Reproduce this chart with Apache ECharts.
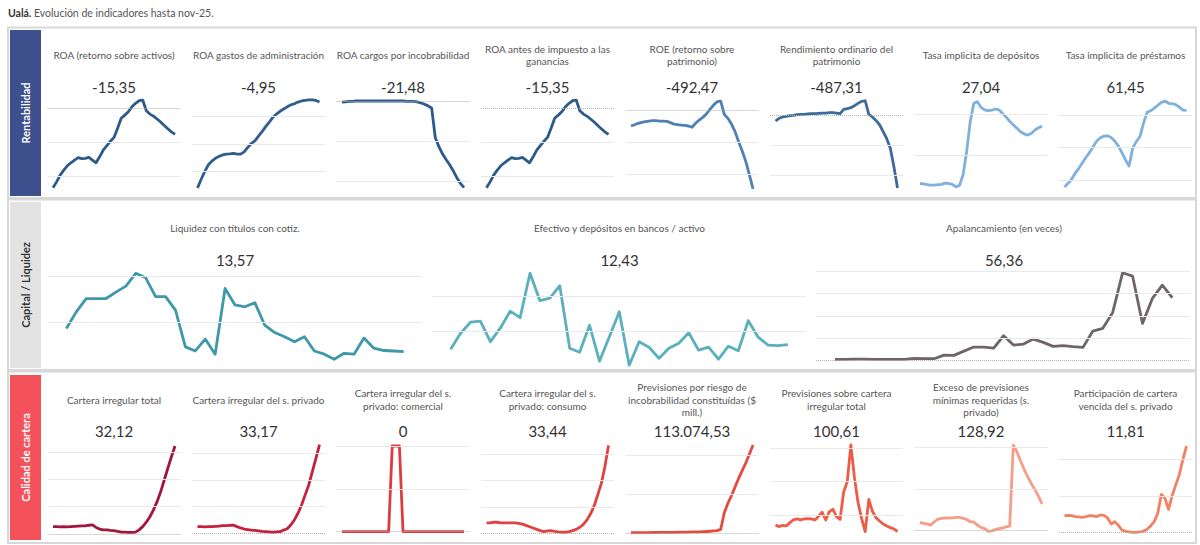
<!DOCTYPE html>
<html>
<head>
<meta charset="utf-8">
<title>Ualá - Evolución de indicadores</title>
<script src="https://cdn.jsdelivr.net/npm/echarts@6/dist/echarts.min.js"></script>
<style>
    html, body { margin: 0; padding: 0; background: #fff; }
    #main { width: 1200px; height: 545px; }
</style>
</head>
<body>
<div id="main"></div>
<script>
    // Rentabilidad
    var roa = [-47.0, -43.5, -39.5, -36.6, -34.0, -32.2, -30.6, -29.2, -29.8, -29.6, -29.0, -30.6, -32.2, -28.7, -24.7, -22.1, -19.5, -17.2, -11.8, -5.9, -4.0, -2.0, 0.9, 3.0, 4.5, 4.9, -1.4, -3.4, -4.6, -6.3, -8.1, -10.1, -12.1, -13.9, -15.35];
    var roaGastos = [-35.8, -32.8, -30.0, -27.6, -26.2, -25.2, -24.5, -24.0, -23.7, -23.6, -23.4, -23.7, -23.7, -22.9, -21.3, -19.8, -18.9, -17.2, -15.6, -13.8, -12.2, -10.5, -9.3, -8.3, -7.5, -6.7, -6.0, -5.6, -5.0, -4.6, -4.4, -4.2, -4.2, -4.4, -4.95];
    var roaCargos = [-0.3, -0.2, -0.1, -0.1, 0.0, 0.0, 0.0, 0.0, 0.0, 0.0, 0.0, 0.0, 0.0, 0.0, 0.0, 0.0, 0.0, 0.0, -0.1, -0.1, -0.1, -0.2, -0.5, -0.8, -1.2, -1.8, -9.1, -11.3, -13.1, -14.5, -15.8, -17.3, -19.0, -20.4, -21.48];
    var roaAntes = [-47.0, -43.5, -39.5, -36.6, -34.0, -32.2, -30.6, -29.2, -29.8, -29.6, -29.0, -30.6, -32.2, -28.7, -24.7, -22.1, -19.5, -17.2, -11.8, -5.9, -4.0, -2.0, 0.9, 3.0, 4.5, 4.9, -1.4, -3.4, -4.6, -6.3, -8.1, -10.1, -12.1, -13.9, -15.35];
    var roe = [-100, -92, -83, -77, -73, -69, -67, -67, -69, -69, -71, -79, -88, -92, -94, -96, -100, -108, -83, -63, -46, -25, 4, 31, 52, 56, -27, -52, -88, -135, -198, -256, -323, -406, -492.47];
    var rendimiento = [-40, -22, -13, -9, -4, -2, 2, 4, 4, 7, 9, 9, 11, 13, 13, 16, 16, 13, 9, 38, 42, 49, 62, 78, 91, 95, 4, -13, -36, -65, -111, -158, -222, -345, -487.31];
    var tasaDep = [13.0, 12.9, 12.7, 12.6, 12.6, 12.7, 12.8, 13.1, 13.0, 12.8, 12.2, 12.5, 15.1, 20.8, 28.2, 32.7, 33.1, 31.7, 31.1, 30.9, 31.0, 31.3, 31.1, 30.2, 29.3, 28.3, 27.4, 26.6, 25.7, 25.2, 24.9, 25.3, 26.1, 26.7, 27.04];
    var tasaPrest = [37.8, 39.0, 40.3, 42.1, 43.6, 45.3, 47.0, 48.5, 50.3, 52.0, 53.0, 53.5, 53.6, 53.1, 52.0, 50.5, 48.4, 46.2, 44.3, 49.8, 51.8, 53.3, 57.4, 60.8, 61.3, 62.1, 63.0, 63.9, 64.3, 63.6, 63.5, 63.2, 62.4, 61.5, 61.45];

    // Capital / Liquidez
    var liquidez = [18.6, 22.2, 25.1, 25.1, 25.1, 26.5, 27.8, 30.6, 29.6, 25.5, 25.5, 22.6, 14.6, 13.7, 16.3, 13.0, 27.3, 23.7, 23.3, 24.2, 19.3, 17.7, 16.8, 15.7, 16.8, 13.7, 13.0, 11.9, 13.2, 13.0, 16.5, 14.3, 13.8, 13.7, 13.57];
    var efectivo = [11.5, 14.7, 16.9, 17.1, 13.0, 15.7, 19.1, 17.8, 26.7, 21.2, 21.7, 24.2, 11.7, 10.9, 16.3, 9.1, 14.0, 19.0, 8.3, 13.0, 11.9, 9.7, 11.7, 12.7, 14.8, 11.3, 11.9, 9.5, 12.1, 11.2, 17.2, 13.9, 12.3, 12.2, 12.43];
    var apalancamiento = [1.2, 1.2, 1.5, 1.5, 1.2, 1.2, 1.2, 1.2, 2.1, 1.8, 1.8, 5.0, 4.8, 8.6, 12.2, 12.2, 11.3, 22.3, 14.0, 14.9, 19.3, 16.4, 12.8, 13.4, 12.5, 11.9, 26.5, 28.9, 43.1, 78.6, 75.6, 33.3, 55.6, 67.5, 56.36];

    // Calidad de cartera
    var carteraTotal = [2.7, 2.7, 2.6, 2.7, 2.6, 2.7, 2.8, 2.9, 3.0, 3.0, 3.2, 3.3, 2.4, 1.8, 1.5, 1.5, 1.3, 1.2, 1.0, 0.7, 0.7, 0.6, 0.6, 0.7, 1.5, 2.7, 4.3, 6.3, 8.8, 11.8, 15.4, 19.7, 24.0, 28.2, 32.12];
    var carteraPriv = [2.5, 2.5, 2.4, 2.5, 2.5, 2.6, 2.7, 2.9, 2.9, 3.0, 3.1, 2.5, 2.0, 1.6, 1.4, 1.2, 1.1, 0.9, 0.7, 0.6, 0.5, 0.4, 0.5, 0.6, 1.2, 1.7, 3.1, 5.0, 7.5, 10.6, 14.4, 18.1, 23.1, 28.1, 33.17];
    var carteraCom = [0, 0, 0, 0, 0, 0, 0, 0, 0, 0, 0, 0, 0, 0, 100, 100, 100, 0, 0, 0, 0, 0, 0, 0, 0, 0, 0, 0, 0, 0, 0, 0, 0, 0, 0];
    var carteraCons = [4.0, 4.0, 4.2, 4.2, 4.0, 4.0, 4.0, 4.0, 4.0, 3.8, 3.5, 3.0, 2.5, 2.0, 1.5, 1.0, 0.6, 0.9, 1.0, 0.7, 0.5, 0.4, 0.4, 0.6, 1.0, 1.5, 2.3, 3.4, 5.1, 7.4, 10.4, 14.6, 19.0, 25.4, 33.44];
    var previsiones = [700, 750, 800, 850, 900, 950, 1000, 1050, 1100, 1150, 1200, 1250, 1300, 1350, 1400, 1500, 1600, 1700, 1800, 1900, 2100, 2300, 2600, 3000, 3400, 5100, 26400, 38500, 48300, 59400, 70500, 80300, 90500, 101700, 113074.53];
    var previsionesCartera = [140, 130, 138, 134, 154, 170, 176, 170, 176, 178, 176, 170, 192, 216, 170, 220, 234, 190, 174, 338, 400, 620, 424, 274, 178, 100, 294, 222, 184, 164, 146, 134, 124, 116, 100.61];
    var exceso = [40, 35, 32, 27, 43, 56, 59, 61, 61, 62, 64, 64, 59, 54, 43, 42, 27, 16, 10, -3, -1, 5, 10, 13, 18, 22, 411, 379, 336, 296, 259, 227, 198, 166, 128.92];
    var participacion = [2.28, 2.33, 2.28, 2.15, 2.1, 2.05, 2.15, 2.28, 2.24, 2.15, 2.38, 2.33, 1.96, 1.14, 1.46, 0.96, 0.32, 0.14, 0.05, 0.0, 0.0, 0.05, 0.14, 0.41, 0.87, 1.46, 2.6, 5.2, 4.65, 3.14, 5.0, 6.5, 7.9, 10.0, 11.81];

    var FONT = 'Lato, "Open Sans", sans-serif';

    //bloques
    var panels = [
        { label: 'Rentabilidad', y: 27.5, h: 170.5, boxY: 30, boxH: 166, box: '#3d4f8d', txt: '#ffffff' },
        { label: 'Capital / Liquidez', y: 199.5, h: 170.5, boxY: 202, boxH: 166, box: '#e3e3e3', txt: '#333333' },
        { label: 'Calidad de cartera', y: 371.5, h: 171.5, boxY: 375, boxH: 165, box: '#f4525b', txt: '#ffffff' }
    ];

    //indicadores
    var charts = [
        { p: 0, k: 0, title: 'ROA (retorno sobre activos)', value: '-15,35', data: roa, color: '#2d5a8a', min: -49.5, max: 7.9, lines: [-20, -40], zero: true },
        { p: 0, k: 1, title: 'ROA gastos de administración', value: '-4,95', data: roaGastos, color: '#2f5d8e', min: -37.3, max: -2.45, lines: [-10, -20, -30] },
        { p: 0, k: 2, title: 'ROA cargos por incobrabilidad', value: '-21,48', data: roaCargos, color: '#2d5a8a', min: -22.55, max: 1.49, lines: [-10, -20], zero: true },
        { p: 0, k: 3, title: 'ROA antes de impuesto a las\nganancias', value: '-15,35', data: roaAntes, color: '#2d5a8a', min: -49.5, max: 7.9, lines: [-20, -40], zero: true },
        { p: 0, k: 4, title: 'ROE (retorno sobre\npatrimonio)', value: '-492,47', data: roe, color: '#4f80b5', min: -512.5, max: 93.75, lines: [-200, -400], zero: true },
        { p: 0, k: 5, title: 'Rendimiento ordinario del\npatrimonio', value: '-487,31', data: rendimiento, color: '#3c6a9b', min: -513.6, max: 133.4, lines: [-200, -400], zero: true },
        { p: 0, k: 6, title: 'Tasa implicita de depósitos', value: '27,04', data: tasaDep, color: '#7fb0de', min: 10.91, max: 34.74, lines: [30, 20] },
        { p: 0, k: 7, title: 'Tasa implicita de préstamos', value: '61,45', data: tasaPrest, color: '#7fb0de', min: 36.31, max: 66.15, lines: [60, 50, 40] },

        { p: 1, k: 0, title: 'Liquidez con títulos con cotiz.', value: '13,57', data: liquidez, color: '#3f97aa', min: 10, max: 31.74, lines: [20, 30] },
        { p: 1, k: 1, title: 'Efectivo y depósitos en bancos / activo', value: '12,43', data: efectivo, color: '#5ab0bb', min: 7.74, max: 27.74, lines: [15, 22] },
        { p: 1, k: 2, title: 'Apalancamiento (en veces)', value: '56,36', data: apalancamiento, color: '#6e6566', min: -6.5, max: 82.8, lines: [20, 40, 60, 80], zero: true },

        { p: 2, k: 0, title: 'Cartera irregular total', value: '32,12', data: carteraTotal, color: '#a1153f', min: -1.46, max: 34.31, lines: [10, 20, 30], zero: true },
        { p: 2, k: 1, title: 'Cartera irregular del s. privado', value: '33,17', data: carteraPriv, color: '#c8203c', min: -1.76, max: 34.94, lines: [10, 20, 30], zero: true },
        { p: 2, k: 2, title: 'Cartera irregular del s.\nprivado: comercial', value: '0', data: carteraCom, color: '#df3b3d', min: -7.35, max: 107, lines: [50, 100], zero: true },
        { p: 2, k: 3, title: 'Cartera irregular del s.\nprivado: consumo', value: '33,44', data: carteraCons, color: '#e14141', min: -1.79, max: 35.48, lines: [10, 20, 30], zero: true },
        { p: 2, k: 4, title: 'Previsiones por riesgo de\nincobrabilidad constituídas ($\nmill.)', value: '113.074,53', data: previsiones, color: '#e54a3e', min: -6025, max: 119600, lines: [50000, 100000], zero: true },
        { p: 2, k: 5, title: 'Previsiones sobre cartera\nirregular total', value: '100,61', data: previsionesCartera, color: '#ee5c48', min: 61.8, max: 649.8, lines: [200, 400, 600] },
        { p: 2, k: 6, title: 'Exceso de previsiones\nmínimas requeridas (s.\nprivado)', value: '128,92', data: exceso, color: '#f59d88', min: -35, max: 435.4, lines: [200, 400], zero: true },
        { p: 2, k: 7, title: 'Participación de cartera\nvencida del s. privado', value: '11,81', data: participacion, color: '#f28163', min: -0.78, max: 12.64, lines: [5, 10], zero: true }
    ];

    function layout(c) {
        if (c.p === 1) {
            return { left: 47.5 + 384.3 * c.k, width: 374, top: 268, height: 100, cx: 235 + 384.5 * c.k, ty: 228, vy: 259.5, xmin: -1.9, xmax: 35.8 };
        }
        var colX = 41.5 + 144.5 * c.k;
        return {
            left: colX + 6, width: 133,
            top: c.p === 0 ? 95 : 440, height: c.p === 0 ? 97 : 98,
            cx: colX + 72.5, ty: c.p === 0 ? 55 : 399.5, vy: c.p === 0 ? 87 : 431,
            xmin: -1.53, xmax: 35.53
        };
    }

    var grid = [], xAxis = [], yAxis = [], series = [];
    var graphic = [{
        type: 'text', x: 8, y: 13, z: 5,
        style: {
            text: '{b|Ualá.} Evolución de indicadores hasta nov-25.',
            font: '10.5px ' + FONT, fill: '#555', verticalAlign: 'middle',
            rich: { b: { fontWeight: 'bold', fill: '#333', fontSize: 10.5, fontFamily: FONT } }
        }
    }];

    panels.forEach(function (p) {
        graphic.push({
            type: 'rect', z: 0,
            shape: { x: 8, y: p.y, width: 1188, height: p.h },
            style: { fill: '#fff', stroke: '#d8d8d8', lineWidth: 2 }
        });
        graphic.push({
            type: 'rect', z: 1,
            shape: { x: 10, y: p.boxY, width: 31, height: p.boxH },
            style: { fill: p.box }
        });
        graphic.push({
            type: 'text', z: 2, x: 25.5, y: p.boxY + p.boxH / 2, rotation: Math.PI / 2,
            style: { text: p.label, font: 'bold 11px ' + FONT, fill: p.txt, align: 'center', verticalAlign: 'middle' }
        });
    });

    charts.forEach(function (c, i) {
        var l = layout(c);
        grid.push({ left: l.left, top: l.top, width: l.width, height: l.height });
        xAxis.push({ gridIndex: i, type: 'value', min: l.xmin, max: l.xmax, show: false });
        yAxis.push({ gridIndex: i, type: 'value', min: c.min, max: c.max, show: false });

        var marks = c.lines.map(function (v) {
            return { yAxis: v, lineStyle: { color: '#e9e9e9', width: 1, type: 'solid' } };
        });
        if (c.zero) {
            marks.push({ yAxis: 0, lineStyle: { color: '#b0b0b0', width: 1, type: 'dotted' } });
        }
        //网格线
        series.push({
            type: 'line', xAxisIndex: i, yAxisIndex: i, data: [], z: 1, silent: true,
            markLine: { silent: true, symbol: ['none', 'none'], label: { show: false }, animation: false, data: marks }
        });
        series.push({
            type: 'line', xAxisIndex: i, yAxisIndex: i, z: 3,
            data: c.data.map(function (v, j) { return [j, v]; }),
            showSymbol: false, silent: true,
            lineStyle: { color: c.color, width: 2.8, join: 'round' }
        });

        graphic.push({
            type: 'text', z: 5, x: l.cx, y: l.ty,
            style: { text: c.title, font: '10px ' + FONT, fill: '#555', align: 'center', verticalAlign: 'middle', lineHeight: 12.5 }
        });
        graphic.push({
            type: 'text', z: 5, x: l.cx, y: l.vy,
            style: { text: c.value, font: '15px ' + FONT, fill: '#333', align: 'center', verticalAlign: 'middle' }
        });
    });

    var myChart = echarts.init(document.getElementById('main'), null, { renderer: 'svg' });
    myChart.setOption({
        animation: false,
        backgroundColor: '#fff',
        graphic: graphic,
        grid: grid,
        xAxis: xAxis,
        yAxis: yAxis,
        series: series
    });
</script>
</body>
</html>
